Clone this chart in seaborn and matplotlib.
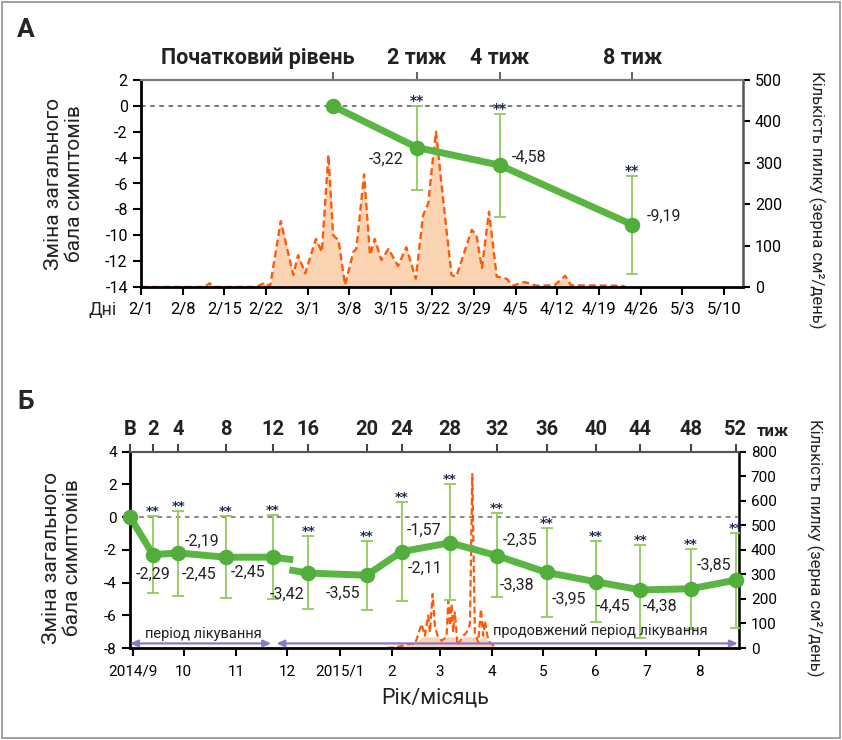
import numpy as np
import pandas as pd
import seaborn as sns
import matplotlib.pyplot as plt
from matplotlib.patches import Rectangle

sns.set_style("ticks")
plt.rcParams['font.family'] = ['Roboto', 'DejaVu Sans']
plt.rcParams['axes.unicode_minus'] = False

# ---------------- panel A (2015 season, day 0 = 1 Feb) ----------------
a_start = pd.Timestamp("2015-02-01")
a_visit_labels = ["Початковий рівень", "2 тиж", "4 тиж", "8 тиж"]
a_visit_days = [32.2, 46.4, 60.3, 82.6]
a_change = [0.0, -3.22, -4.58, -9.19]
a_err_hi = [np.nan, 0.0, -0.6, -5.45]
a_err_lo = [np.nan, -6.5, -8.6, -13.0]

a_pollen_day = [0, 10.8, 11.5, 12.3, 19.4, 20.2, 20.8, 21.7, 23.5, 25.6, 26.4, 27.6, 29.4, 30.4,
                31.5, 32.3, 33.2, 34.3, 35.7, 36.2, 37.5, 38.5, 39.3, 40.4, 41.6, 43.2, 44.6,
                46.2, 47.4, 48.3, 49.1, 49.6, 50.8, 52.2, 53.0, 55.6, 56.4, 57.3, 58.5, 59.8,
                61.5, 62.4, 64.5, 66.5, 69.5, 71.3, 72.3, 80.8, 81.5]
a_pollen = [0, 0, 9, 0, 0, 6, 10, 2, 159, 29, 77, 33, 116, 85,
            319, 125, 113, 5, 85, 92, 272, 77, 116, 65, 92, 51, 96,
            20, 172, 203, 315, 375, 210, 29, 25, 138, 125, 46, 182, 25,
            20, 3, 12, 3, 4, 27, 4, 3, 0]

# ---------------- panel B (2014/9 - 2015/8, day 0 = 1 Sep 2014) ----------------
b_start = pd.Timestamp("2014-09-01")
b_week_labels = ["В", "2", "4", "8", "12", "16", "20", "24", "28", "32", "36", "40", "44", "48", "52"]
b_visit_days = [-1.6, 12.0, 26.9, 54.8, 82.5, 103.5, 138.0, 158.6, 187.1, 214.6, 244.1,
                273.2, 299.5, 329.0, 355.7]
b_change = [0.0, -2.29, -2.19, -2.45, -2.45, -3.42, -3.55, -2.11, -1.57, -2.35, -3.38,
            -3.95, -4.45, -4.38, -3.85]
b_err_hi = [np.nan, 0.06, 0.35, 0.06, 0.14, -1.18, -1.43, 0.9, 2.0, 0.27, -0.65,
            -1.43, -1.72, -1.94, -0.98]
b_err_lo = [np.nan, -4.64, -4.8, -4.97, -5.03, -5.6, -5.68, -5.11, -5.07, -4.91, -6.13,
            -6.4, -7.36, -6.85, -6.75]
b_month_labels = ["2014/9", "10", "11", "12", "2015/1", "2", "3", "4", "5", "6", "7", "8"]

b_pollen_day = [150, 155, 159.6, 163.5, 166.5, 170.4, 172.3, 174.3, 175.3, 176.9, 178.2, 179.8,
                182.2, 185.1, 186.1, 187.1, 188.1, 189.0, 190.0, 191.6, 195.0, 197.0, 198.9,
                200.3, 201.8, 203.8, 205.4, 206.7, 207.7, 209.7, 211.7, 214.6]
b_pollen = [0, 3, 10, 17, 16, 98, 50, 132, 64, 220, 91, 50,
            30, 44, 193, 91, 179, 64, 145, 10, 50, 64, 98,
            709, 64, 23, 159, 50, 111, 30, 16, 0]

phase_labels = ["період лікування", "продовжений період лікування"]
phase_start = [-1.6, 84.7]
phase_end = [81.7, 357.0]

# colours
GREEN = "#5BB543"
GREEN_MK = "#52AE3B"
ERR = "#8FCB5C"
POLLEN = "#FF5A0A"
FILL = "#FAD4B2"
PURPLE = "#8C78C4"
STAR = "#1E2B4A"

fig = plt.figure(figsize=(8.42, 7.4), dpi=100)
fig.add_artist(Rectangle((2 / 842, 2 / 740), 838 / 842, 736 / 740, transform=fig.transFigure,
                         fill=False, edgecolor="#9a9a9a", lw=1.3))


def fmt(v):
    return f"{v:.2f}".replace(".", ",")


def style_axes(ax, ax2, top_color, right_color):
    ax.spines["left"].set_color("black")
    ax.spines["left"].set_linewidth(2)
    ax.spines["bottom"].set_color("black")
    ax.spines["bottom"].set_linewidth(2)
    ax.spines["top"].set_color(top_color)
    ax.spines["top"].set_linewidth(1.5)
    ax.spines["right"].set_visible(False)
    for s in ["left", "top", "bottom"]:
        ax2.spines[s].set_visible(False)
    ax2.spines["right"].set_color(right_color)
    ax2.spines["right"].set_linewidth(1.8)
    ax.tick_params(axis="both", direction="out", length=6, width=1.5, colors="black")
    ax2.tick_params(axis="y", direction="out", length=5, width=1.5, colors="black")
    ax.set_zorder(ax2.get_zorder() + 1)
    ax.patch.set_visible(False)


def stars(ax, days, hi, fs):
    for d, h in zip(days, hi):
        if np.isnan(h):
            continue
        ax.annotate("**", (d, h), xytext=(0, -2), textcoords="offset pixels", ha="center",
                    va="bottom", fontsize=fs, fontweight="bold", color=STAR,
                    family="DejaVu Sans", zorder=6, annotation_clip=False)


# ======================= panel A =======================
axA = fig.add_axes([141 / 842, 1 - 287 / 740, 602 / 842, 207 / 740])
axA2 = axA.twinx()

sns.lineplot(x=a_pollen_day, y=a_pollen, ax=axA2, color=POLLEN, lw=1.7,
             linestyle=(0, (3, 1.6)), estimator=None, sort=False)
axA2.fill_between(a_pollen_day, a_pollen, color=FILL, lw=0, zorder=0)
axA2.set_ylim(0, 500)
axA2.set_yticks(range(0, 501, 100))
axA2.tick_params(axis="y", labelsize=11.5)
axA2.set_ylabel("")

axA.axhline(0, color="#555555", lw=1.1, ls=(0, (3, 3)), zorder=1)
sns.lineplot(x=a_visit_days, y=a_change, ax=axA, color=GREEN, lw=5, estimator=None,
             sort=False, zorder=2)
a_dhi = np.array(a_err_hi) - np.array(a_change)
a_dlo = np.array(a_change) - np.array(a_err_lo)
axA.errorbar(a_visit_days, a_change, yerr=[a_dlo, a_dhi], fmt="none", ecolor=ERR,
             elinewidth=1.3, capsize=4.5, capthick=1.3, zorder=3)
sns.scatterplot(x=a_visit_days, y=a_change, ax=axA, color=GREEN_MK, s=125, linewidth=0,
                zorder=4, clip_on=False)
stars(axA, a_visit_days, a_err_hi, 10)

a_label_off = [(-31, 12), (29, -8), (32, -8)]
for d, v, (dx, dy) in zip(a_visit_days[1:], a_change[1:], a_label_off):
    axA.annotate(fmt(v), (d, v), xytext=(dx, -dy), textcoords="offset pixels",
                 ha="center", va="center", fontsize=11.5, color="#222222", zorder=6)

axA.set_ylim(-14, 2)
axA.set_yticks(range(-14, 3, 2))
axA.set_xlim(0, 101.2)
a_ticks = pd.date_range("2015-02-01", "2015-05-10", freq="7D")
axA.set_xticks([(t - a_start).days for t in a_ticks])
axA.set_xticklabels([f"{t.month}/{t.day}" for t in a_ticks])
axA.tick_params(axis="x", labelsize=12, pad=5)
axA.tick_params(axis="y", labelsize=11.5)
axA.set_xlabel("")
axA.set_ylabel("")
style_axes(axA, axA2, "#7a7a7a", "#555555")

secA = axA.secondary_xaxis("top")
secA.set_xticks(a_visit_days)
secA.set_xticklabels([])
secA.tick_params(direction="out", length=6, width=1.5, color="#666666")
secA.spines["top"].set_color("#7a7a7a")
secA.spines["top"].set_linewidth(1.5)
a_top_off = [22, 0, 0, 0]
a_top_ha = ["right", "center", "center", "center"]
for d, lab, dx, ha in zip(a_visit_days, a_visit_labels, a_top_off, a_top_ha):
    axA.annotate(lab, (d, 1), xycoords=("data", "axes fraction"), xytext=(dx, 22),
                 textcoords="offset pixels", ha=ha, va="center", fontsize=15.5,
                 fontweight="bold", color="#222222", annotation_clip=False)

fig.text(103 / 842, 1 - 310 / 740, "Дні", fontsize=13, ha="center", va="center")
fig.text(64 / 842, 1 - 184 / 740, "Зміна загального\nбала симптомів", rotation=90,
         fontsize=15, ha="center", va="center", linespacing=1.1, color="#222222")
fig.text(817 / 842, 1 - 200 / 740, "Кількість пилку (зерна см²/день)", rotation=270,
         fontsize=12, ha="center", va="center", color="#222222")
fig.text(17 / 842, 1 - 30 / 740, "А", fontsize=19, fontweight="bold", va="center")

# ======================= panel B =======================
axB = fig.add_axes([130 / 842, 1 - 648 / 740, 609 / 842, 196.3 / 740])
axB2 = axB.twinx()

sns.lineplot(x=b_pollen_day, y=b_pollen, ax=axB2, color=POLLEN, lw=1.6,
             linestyle=(0, (3, 1.6)), estimator=None, sort=False)
axB2.fill_between(b_pollen_day, np.minimum(b_pollen, 45), color=FILL, lw=0, zorder=0)
axB2.set_ylim(0, 800)
axB2.set_yticks(range(0, 801, 100))
axB2.tick_params(axis="y", labelsize=11)
axB2.set_ylabel("")

axB.axhline(0, color="#666666", lw=1.1, ls=(0, (3, 3)), zorder=1)
# line is broken between week 12 and week 16
sns.lineplot(x=b_visit_days[:5], y=b_change[:5], ax=axB, color=GREEN, lw=5,
             estimator=None, sort=False, zorder=2)
sns.lineplot(x=b_visit_days[5:], y=b_change[5:], ax=axB, color=GREEN, lw=5,
             estimator=None, sort=False, zorder=2)
gx0, gx1 = b_visit_days[4], b_visit_days[5]
gy0, gy1 = b_change[4], b_change[5]
axB.plot([gx0, gx0 + 0.58 * (gx1 - gx0)], [gy0, gy0 + 0.16 * (gy1 - gy0)],
         color=GREEN, lw=5, solid_capstyle="butt", zorder=2)
axB.plot([gx0 + 0.47 * (gx1 - gx0), gx1], [gy0 + 0.8 * (gy1 - gy0), gy1],
         color=GREEN, lw=5, solid_capstyle="butt", zorder=2)

b_dhi = np.array(b_err_hi) - np.array(b_change)
b_dlo = np.array(b_change) - np.array(b_err_lo)
axB.errorbar(b_visit_days, b_change, yerr=[b_dlo, b_dhi], fmt="none", ecolor=ERR,
             elinewidth=1.3, capsize=4.5, capthick=1.3, zorder=3)
sns.scatterplot(x=b_visit_days, y=b_change, ax=axB, color=GREEN_MK, s=125, linewidth=0,
                zorder=4, clip_on=False)
stars(axB, b_visit_days, b_err_hi, 9.5)

b_label_off = [(0, 20), (24, -12), (-26, 17), (-24, 15), (-21, 21), (-24, 18), (24, 17),
               (-26, -12), (24, -15), (-30, 13), (-27, 18), (-27, 16), (-30, 18), (-22, -15)]
for d, v, (dx, dy) in zip(b_visit_days[1:], b_change[1:], b_label_off):
    axB.annotate(fmt(v), (d, v), xytext=(dx, -dy), textcoords="offset pixels",
                 ha="center", va="center", fontsize=11.5, color="#222222", zorder=6)

# treatment period arrows
for lab, s, e in zip(phase_labels, phase_start, phase_end):
    axB.annotate("", xy=(e, -7.72), xytext=(s, -7.72),
                 arrowprops=dict(arrowstyle="<|-|>,head_length=0.45,head_width=0.2",
                                 color=PURPLE, lw=1.6, shrinkA=0, shrinkB=0),
                 annotation_clip=False, zorder=5)
axB.text(41.5, -7.12, phase_labels[0], ha="center", va="center", fontsize=10.5,
         color="#222222", zorder=6)
axB.text(276, -6.98, phase_labels[1], ha="center", va="center", fontsize=10.5,
         color="#222222", zorder=6)

axB.set_ylim(-8, 4)
axB.set_yticks(range(-8, 5, 2))
axB.set_xlim(-1.6, 357.6)
b_ticks = pd.date_range("2014-09-01", "2015-08-01", freq="MS")
axB.set_xticks([(t - b_start).days for t in b_ticks])
axB.set_xticklabels(b_month_labels)
axB.tick_params(axis="x", labelsize=11, pad=6)
axB.tick_params(axis="y", labelsize=11)
axB.set_xlabel("")
axB.set_ylabel("")
style_axes(axB, axB2, "#555555", "black")

secB = axB.secondary_xaxis("top")
secB.set_xticks(b_visit_days)
secB.set_xticklabels([])
secB.tick_params(direction="out", length=6, width=1.5, color="#444444")
secB.spines["top"].set_color("#555555")
secB.spines["top"].set_linewidth(1.5)
for d, lab in zip(b_visit_days, b_week_labels):
    axB.annotate(lab, (d, 1), xycoords=("data", "axes fraction"), xytext=(0, 22),
                 textcoords="offset pixels", ha="center", va="center", fontsize=14.5,
                 fontweight="bold", color="#222222", annotation_clip=False)

fig.text(773 / 842, 1 - 432 / 740, "тиж", fontsize=12, fontweight="bold",
         ha="center", va="center", color="#222222")
fig.text(435 / 842, 1 - 698 / 740, "Рік/місяць", fontsize=15.5, ha="center", va="center",
         color="#222222")
fig.text(62 / 842, 1 - 558 / 740, "Зміна загального\nбала симптомів", rotation=90,
         fontsize=15, ha="center", va="center", linespacing=1.1, color="#222222")
fig.text(815 / 842, 1 - 548 / 740, "Кількість пилку (зерна см²/день)", rotation=270,
         fontsize=12, ha="center", va="center", color="#222222")
fig.text(17 / 842, 1 - 402 / 740, "Б", fontsize=19, fontweight="bold", va="center")

fig.savefig("out.png", dpi=100)
